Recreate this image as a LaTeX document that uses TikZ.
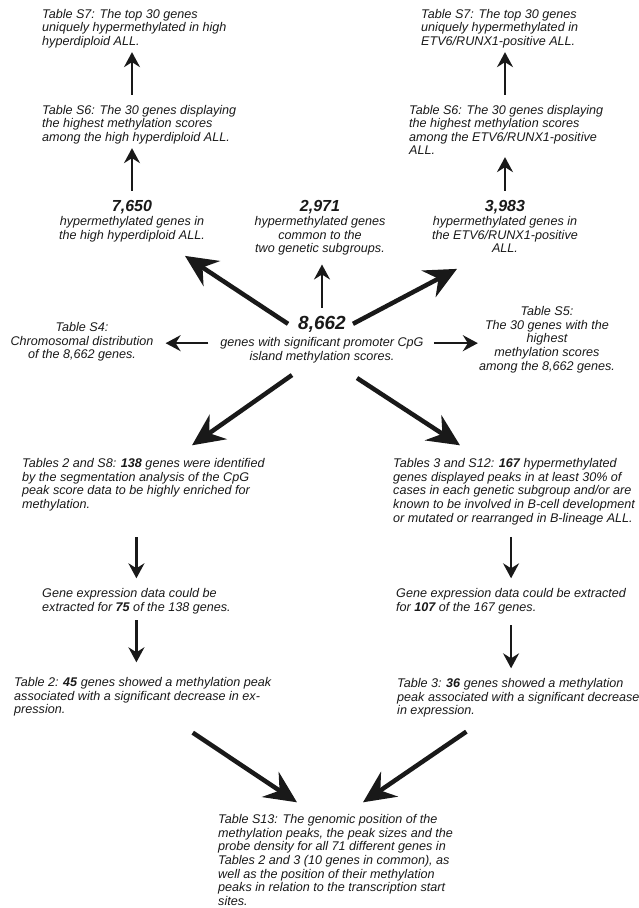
\documentclass[tikz,border=0pt]{standalone}
\usepackage{fontspec}
\setmainfont{Liberation Sans}
\usetikzlibrary{arrows.meta}
\definecolor{ink}{gray}{0.1}
\tikzstyle{txt}=[inner sep=0pt,text=ink,align=left,anchor=north west]
\tikzstyle{ctxt}=[inner sep=0pt,text=ink,align=center,anchor=north]
\tikzstyle{arrow}=[-{Stealth[length=15pt,width=16pt,inset=5pt]},line width=2.2pt,draw=black!90]
\tikzstyle{bigarrow}=[-{Stealth[length=32pt,width=30pt,inset=11pt]},line width=4.5pt,draw=black!90]
\newcommand{\genecount}[1]{{\fontsize{16}{16}\selectfont\bfseries #1}}

\begin{document}
\begin{tikzpicture}[x=1pt,y=-1pt,font=\fontsize{12.6}{13.6}\selectfont\itshape]
	\useasboundingbox (0,0) rectangle (639,908);

	% high hyperdiploid branch
	\node[txt] (s7l) at (42,8.8) {Table S7: The top 30 genes\\uniquely hypermethylated in high\\hyperdiploid ALL.};
	\node[txt] (s6l) at (42,104.8) {Table S6: The 30 genes displaying\\the highest methylation scores\\among the high hyperdiploid ALL.};
	\node[ctxt] (hyl) at (132,200.5) {\genecount{7,650}\\hypermethylated genes in\\the high hyperdiploid ALL.};

	% common
	\node[ctxt] (com) at (320,200.5) {\genecount{2,971}\\hypermethylated genes\\common to the\\two genetic subgroups.};

	% ETV6/RUNX1 branch
	\node[txt] (s7r) at (421,8.8) {Table S7: The top 30 genes\\uniquely hypermethylated in\\ETV6/RUNX1-positive ALL.};
	\node[txt] (s6r) at (409,104.8) {Table S6: The 30 genes displaying\\the highest methylation scores\\among the ETV6/RUNX1-positive\\ALL.};
	\node[ctxt] (her) at (505,200.5) {\genecount{3,983}\\hypermethylated genes in\\the ETV6/RUNX1-positive\\ALL.};

	% all genes
	\node[ctxt,anchor=base] (total) at (322,329) {\fontsize{19}{19}\selectfont\bfseries 8,662};
	\node[ctxt] (totaltxt) at (322,337.3) {genes with significant promoter CpG\\island methylation scores.};
	\node[ctxt] (s4) at (82,322.3) {Table S4:\\Chromosomal distribution\\of the 8,662 genes.};
	\node[ctxt] (s5) at (547,306.3) {Table S5:\\The 30 genes with the\\highest\\methylation scores\\among the 8,662 genes.};

	% lower part
	\node[txt] (s8) at (22,458.3) {Tables 2 and S8: \textbf{138} genes were identified\\by the segmentation analysis of the CpG\\peak score data to be highly enriched for\\methylation.};
	\node[txt] (s12) at (393,458.3) {Tables 3 and S12: \textbf{167} hypermethylated\\genes displayed peaks in at least 30\% of\\cases in each genetic subgroup and/or are\\known to be involved in B-cell development\\or mutated or rearranged in B-lineage ALL.};
	\node[txt] (ex1) at (42,588.3) {Gene expression data could be\\extracted for \textbf{75} of the 138 genes.};
	\node[txt] (ex2) at (396,588.3) {Gene expression data could be extracted\\for \textbf{107} of the 167 genes.};
	\node[txt] (t2) at (14,677.3) {Table 2: \textbf{45} genes showed a methylation peak\\associated with a significant decrease in ex-\\pression.};
	\node[txt] (t3) at (397,678.3) {Table 3: \textbf{36} genes showed a methylation\\peak associated with a significant decrease\\in expression.};
	\node[txt] (s13) at (218,814.3) {Table S13: The genomic position of the\\methylation peaks, the peak sizes and the\\probe density for all 71 different genes in\\Tables 2 and 3 (10 genes in common), as\\well as the position of their methylation\\peaks in relation to the transcription start\\sites.};

	%arrows
	\draw[arrow,shorten <=10pt,shorten >=4pt] (hyl.north) -- (s6l.south -| hyl.north);
	\draw[arrow,shorten <=10pt,shorten >=4pt] (s6l.north -| hyl.north) -- (s7l.south -| hyl.north);
	\draw[arrow,shorten <=10pt,shorten >=2pt] (her.north) -- (s6r.south -| her.north);
	\draw[arrow,shorten <=10pt,shorten >=4pt] (s6r.north -| her.north) -- (s7r.south -| her.north);
	\draw[arrow,shorten <=8pt,shorten >=9pt] (total.north) -- (com.south -| total.north);

	\draw[bigarrow] ([xshift=-10pt]total.west) -- ([shift={(53,14)}]hyl.south);
	\draw[bigarrow] ([xshift=7pt]total.east) -- ([shift={(-48,16)}]her.south);
	\draw[bigarrow] ([shift={(-30,12)}]totaltxt.south) -- ([shift={(170,-13)}]s8.north west);
	\draw[bigarrow] ([shift={(35,15)}]totaltxt.south) -- ([shift={(67,-13)}]s12.north west);

	\coordinate (tl) at ([yshift=7pt]totaltxt.west);
	\coordinate (tr) at ([yshift=7pt]totaltxt.east);
	\draw[arrow,shorten <=12pt,shorten >=12pt] (tl) -- (tl -| s4.east);
	\draw[arrow,shorten <=10pt,shorten >=1pt] (tr) -- (tr -| s5.west);

	\draw[arrow,shorten <=26pt,shorten >=10pt] (s8.south -| ex1.north) -- (ex1.north);
	\draw[arrow,shorten <=6pt,shorten >=15pt] (ex1.south) -- (t2.north -| ex1.south);
	\draw[arrow,shorten <=12pt,shorten >=10pt] (s12.south -| ex2.north) -- (ex2.north);
	\draw[arrow,shorten <=11pt,shorten >=10pt] (ex2.south) -- (t3.north -| ex2.south);

	\draw[bigarrow] ([shift={(50,16)}]t2.south) -- ([shift={(79,-12)}]s13.north west);
	\draw[bigarrow] ([shift={(-52,14)}]t3.south) -- ([shift={(145,-12)}]s13.north west);
\end{tikzpicture}
\end{document}
